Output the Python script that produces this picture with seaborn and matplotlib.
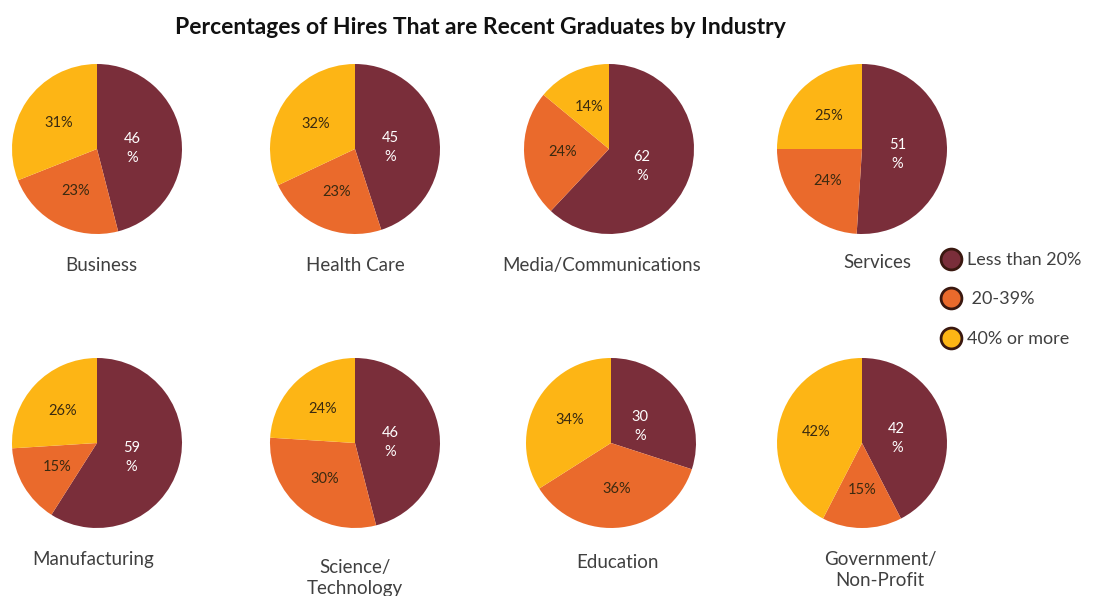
import math
import matplotlib
matplotlib.use("Agg")
import matplotlib.pyplot as plt
from matplotlib.lines import Line2D
import seaborn as sns

sns.set_theme(style="white")
plt.rcParams["font.family"] = ["Lato", "DejaVu Sans"]

# Share of hires by recent-graduate percentage band, per industry
industries = ["Business", "Health Care", "Media/Communications", "Services",
              "Manufacturing", "Science/\nTechnology", "Education", "Government/\nNon-Profit"]
less_than_20 = [46, 45, 62, 51, 59, 46, 30, 42]
from_20_to_39 = [23, 23, 24, 24, 15, 30, 36, 15]
forty_or_more = [31, 32, 14, 25, 26, 24, 34, 42]
bands = ["Less than 20%", " 20-39%", "40% or more"]

colors = ["#7A2E3A", "#EA6A2C", "#FDB515"]
text_dark = "#404040"

W, H = 1095, 596
fig = plt.figure(figsize=(W / 100, H / 100), dpi=100)
fig.patch.set_facecolor("white")

R = 85
centers = [(97, 149), (355, 149), (609, 149), (862, 149),
           (97, 443), (355, 443), (611, 443), (862, 443)]
label_pos = [(101, 265), (355, 265), (602, 265), (877, 263),
             (93, 560), (355, 578), (617, 563), (880, 570)]

for i, name in enumerate(industries):
    cx, cy = centers[i]
    ax = fig.add_axes([(cx - R) / W, 1 - (cy + R) / H, 2 * R / W, 2 * R / H])
    vals = [less_than_20[i], from_20_to_39[i], forty_or_more[i]]
    ax.pie(vals, colors=colors, startangle=90, counterclock=False,
           radius=1.0, wedgeprops=dict(linewidth=0))
    total = sum(vals)
    start = 90.0
    for j, v in enumerate(vals):
        mid = start - v / total * 360 / 2
        start -= v / total * 360
        dist = 0.42 if j == 0 else 0.55
        x = dist * math.cos(math.radians(mid))
        y = dist * math.sin(math.radians(mid))
        if j == 0:
            ax.text(x, y - 0.05, f"{v}\n%", ha="center", va="center",
                    fontsize=10.5, color="white", linespacing=1.45)
        else:
            ax.text(x, y, f"{v}%", ha="center", va="center",
                    fontsize=10.5, color="#3a2a10")
    ax.set_xlim(-1, 1)
    ax.set_ylim(-1, 1)
    ax.set_aspect("equal")
    ax.axis("off")
    lx, ly = label_pos[i]
    fig.text(lx / W, 1 - ly / H, name, ha="center", va="center",
             fontsize=13.5, color=text_dark, linespacing=1.3)

fig.text(480 / W, 1 - 28 / H, "Percentages of Hires That are Recent Graduates by Industry",
         ha="center", va="center", fontsize=16.5, fontweight="bold", color="#111111")

handles = [Line2D([], [], marker="o", linestyle="none", markersize=15,
                  markerfacecolor=c, markeredgecolor="#3a1810", markeredgewidth=2)
           for c in colors]
fig.legend(handles, bands, loc="upper left", bbox_to_anchor=(940 / W, 1 - 252 / H),
           frameon=False, fontsize=13, labelcolor=text_dark, handletextpad=0.3,
           labelspacing=1.3, handlelength=1.2, borderaxespad=0, borderpad=0)

fig.savefig("out.png", dpi=100, facecolor="white")
